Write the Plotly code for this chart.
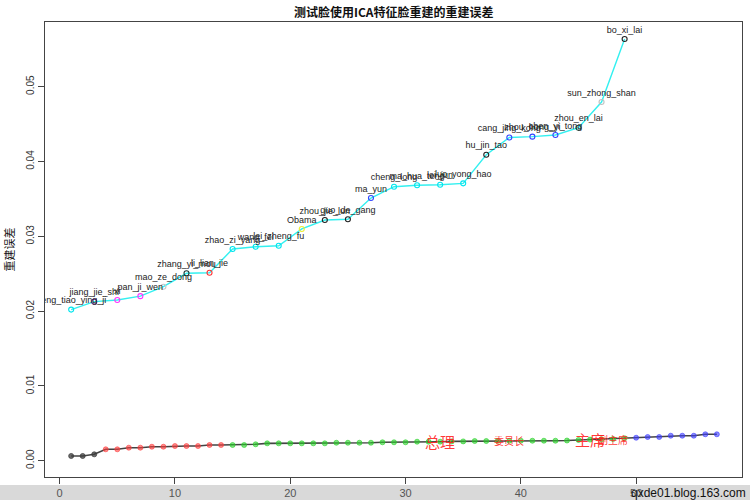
import plotly.graph_objects as go

# ---- data ----
top_x = list(range(1, 50, 2))
top_vals = [0.0202, 0.02126, 0.02148, 0.0220, 0.02326, 0.02505, 0.02513, 0.0283,
            0.0286, 0.02874, 0.03098, 0.03218, 0.03227, 0.03512, 0.03663, 0.03682,
            0.0369, 0.03708, 0.04091, 0.04321, 0.04332, 0.04354, 0.04452, 0.04795, 0.05638]
top_names = ["deng_tiao_ying_ji", "jiang_jie_shi", "xi", "pan_ji_wen", "mao_ze_dong",
             "zhang_yi_mou", "li_lian_jie", "zhao_zi_yang", "wang_fei", "lei_zheng_fu",
             "Obama", "zhou_jie_lun", "guo_de_gang", "ma_yun", "cheng_long",
             "ma_hua_teng", "lei_jun", "luo_yong_hao", "hu_jin_tao", "cang_jing_kong",
             "zhou_hong_yi", "chen_yi_tong", "zhou_en_lai", "sun_zhong_shan", "bo_xi_lai"]
top_colors = ["#00e5ee", "#5a2a8a", "#ff33ff", "#ff33ff", "#c8c8c8", "#1a3a3a", "#ff3333",
              "#00e5ee", "#00e5ee", "#00e5ee", "#eeee33", "#222222", "#222222", "#3344ff",
              "#00e5ee", "#00e5ee", "#00e5ee", "#00e5ee", "#222222", "#3344ff", "#3344ff",
              "#3344ff", "#1a5a5a", "#c0c0c0", "#222222"]

bot_x = list(range(1, 58))
bot_vals = [0.00063, 0.00063, 0.00085, 0.00152, 0.00152, 0.00174, 0.00174, 0.00187, 0.00187,
            0.00196, 0.00196, 0.00196, 0.0021, 0.0021, 0.0021, 0.0021, 0.00219, 0.00232,
            0.00232, 0.00232, 0.00232, 0.00232, 0.00232, 0.0024, 0.0024, 0.0024, 0.0024,
            0.00246, 0.00246, 0.00246, 0.00254, 0.00254, 0.00254, 0.00258, 0.00258, 0.00263,
            0.00263, 0.00265, 0.00265, 0.00267, 0.00267, 0.00267, 0.00267, 0.0027, 0.00277,
            0.00282, 0.00286, 0.0029, 0.003, 0.00307, 0.00317, 0.00317, 0.00334, 0.00334,
            0.00334, 0.00353, 0.00353]
bot_groups = [(1, 3, "rgba(60,60,60,0.75)"), (4, 14, "rgba(255,60,60,0.6)"),
              (15, 49, "rgba(40,210,40,0.6)"), (50, 57, "rgba(60,60,255,0.6)")]

role_labels = ["总理", "委员长", "主席", "副主席"]
role_x = [33, 39, 46, 48]
role_sizes = [15, 10, 15, 10]

x_ticks = [0, 10, 20, 30, 40, 50]
y_ticks = [0.0, 0.01, 0.02, 0.03, 0.04, 0.05]
y_ticktext = ["0.00", "0.01", "0.02", "0.03", "0.04", "0.05"]

title = "测试脸使用ICA特征脸重建的重建误差"
ytitle = "重建误差"
watermark = "qxde01.blog.163.com"

fig = go.Figure()

# bottom series line
fig.add_trace(go.Scatter(x=bot_x, y=bot_vals, mode="lines",
                         line=dict(color="#444444", width=1.6), showlegend=False,
                         hoverinfo="skip"))
for a, b, c in bot_groups:
    xs = [x for x in bot_x if a <= x <= b]
    ys = [bot_vals[x - 1] for x in xs]
    fig.add_trace(go.Scatter(x=xs, y=ys, mode="markers",
                             marker=dict(size=5, color=c, line=dict(width=1, color=c)),
                             showlegend=False))

# top series
fig.add_trace(go.Scatter(x=top_x, y=top_vals, mode="lines",
                         line=dict(color="#33f0f0", width=1.4), showlegend=False))
fig.add_trace(go.Scatter(x=top_x, y=top_vals, mode="markers+text",
                         marker=dict(size=5, symbol="circle-open", color=top_colors,
                                     line=dict(width=1.1, color=top_colors)),
                         text=top_names, textposition="top center",
                         textfont=dict(family="Liberation Sans", size=9, color="#222222"),
                         cliponaxis=True, showlegend=False))

# role labels
for lab, xv, sz in zip(role_labels, role_x, role_sizes):
    fig.add_annotation(x=xv, y=bot_vals[xv - 1], text=lab, showarrow=False,
                       font=dict(family="Noto Sans CJK SC", size=sz, color="rgba(255,30,30,0.9)"),
                       xanchor="center", yanchor="middle")

# title, y title, watermark
fig.add_annotation(xref="paper", yref="paper", x=0.5, y=1.022, text="<b>" + title + "</b>",
                   showarrow=False, font=dict(family="Noto Sans CJK SC", size=12, color="#111111"),
                   xanchor="center", yanchor="middle")
fig.add_annotation(xref="paper", yref="paper", x=-0.053, y=0.5, text=ytitle, textangle=-90,
                   showarrow=False, font=dict(family="Noto Sans CJK SC", size=11, color="#111111"),
                   xanchor="center", yanchor="middle")
fig.add_annotation(xref="paper", yref="paper", x=1.0086, y=-0.035, text=watermark,
                   showarrow=False, font=dict(family="Liberation Sans", size=12, color="#111111"),
                   xanchor="right", yanchor="middle")

# gray band at the bottom
fig.add_shape(type="rect", xref="paper", yref="paper", x0=-0.1, x1=1.1, y0=-0.0176, y1=-0.06,
              fillcolor="#d9d9d9", line=dict(width=0), layer="below")

fig.update_layout(
    width=750, height=500,
    margin=dict(l=45, r=8, t=22, b=23, autoexpand=False),
    paper_bgcolor="white", plot_bgcolor="white",
    xaxis=dict(range=[-1.27, 59.18], tickvals=x_ticks, showgrid=False, zeroline=False,
               automargin=False,
               showline=True, mirror=True, linecolor="#444444", linewidth=1,
               ticks="outside", ticklen=6, tickcolor="#444444",
               tickfont=dict(family="Liberation Sans", size=11, color="#555555")),
    yaxis=dict(range=[-0.00218, 0.05865], tickvals=y_ticks, ticktext=y_ticktext,
               showgrid=False, zeroline=False, tickangle=-90, automargin=False,
               showline=True, mirror=True, linecolor="#444444", linewidth=1,
               ticks="outside", ticklen=6, tickcolor="#444444",
               tickfont=dict(family="Liberation Sans", size=10, color="#333333")),
)

fig.write_html("out.html", config={"displayModeBar": False},
               post_script="document.body.style.margin='0';document.body.style.overflow='hidden';")
